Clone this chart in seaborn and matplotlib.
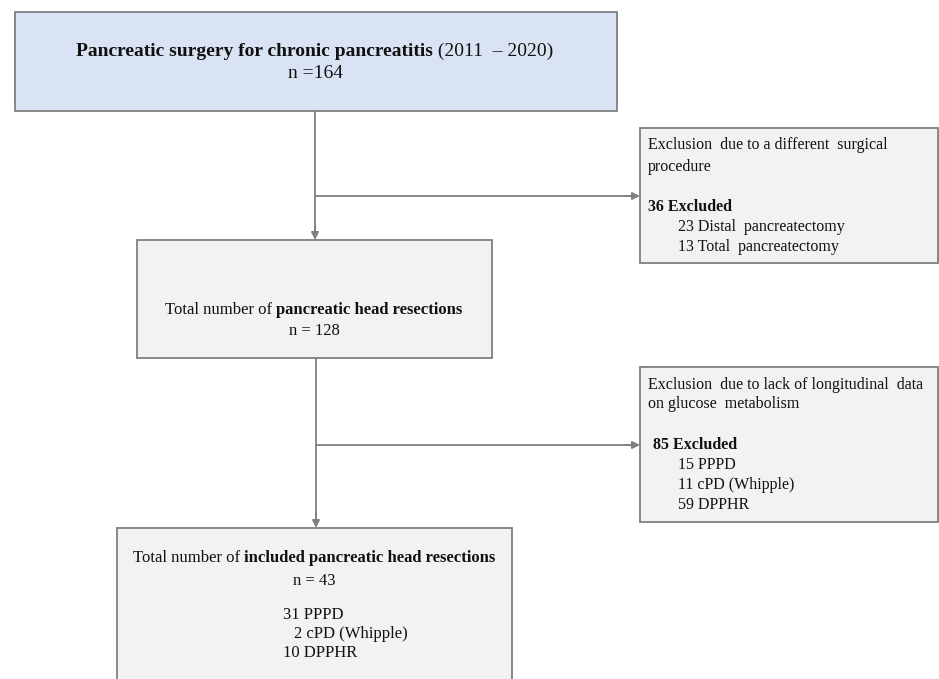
import matplotlib
matplotlib.use("Agg")
import matplotlib.pyplot as plt
import seaborn as sns
import pandas as pd
from matplotlib.patches import Rectangle

# ---- data ----
period = "(2011  \u2013 2020)"
n_total = 164
excl1_total = 36
excl1_labels = ["Distal  pancreatectomy", "Total  pancreatectomy"]
excl1_counts = [23, 13]
n_head = 128
excl2_total = 85
excl2_labels = ["PPPD", "cPD (Whipple)", "DPPHR"]
excl2_counts = [15, 11, 59]
n_included = 43
incl_labels = ["PPPD", "cPD (Whipple)", "DPPHR"]
incl_counts = [31, 2, 10]

sns.set_theme(style="white")
plt.rcParams["font.family"] = ["Liberation Serif", "DejaVu Serif"]

W, H = 939, 679
fig = plt.figure(figsize=(W / 100, H / 100), dpi=100)
ax = fig.add_axes([0, 0, 1, 1])

EDGE = "#7f7f7f"
LINE = "#808080"
FS = 12
FSX = 11.5

# boxes: x0, y0, x1, y1
boxes = {
    "top": (15, 12, 617, 111, "#dae3f3"),
    "ex1": (640, 128, 938, 263, "#f2f2f2"),
    "head": (137, 240, 492, 358, "#f2f2f2"),
    "ex2": (640, 367, 938, 522, "#f2f2f2"),
    "inc": (117, 528, 512, 700, "#f2f2f2"),
}
for k, (x0, y0, x1, y1, fc) in boxes.items():
    ax.add_patch(Rectangle((x0, y0), x1 - x0, y1 - y0, facecolor=fc,
                           edgecolor=EDGE, linewidth=1.3, zorder=1))

# connector lines via seaborn
def seg(xs, ys):
    df = pd.DataFrame({"x": xs, "y": ys})
    sns.lineplot(data=df, x="x", y="y", ax=ax, color=LINE, linewidth=1.3,
                 sort=False, estimator=None, zorder=2)

seg([315, 315], [111, 232])
seg([315, 632], [196, 196])
seg([316, 316], [358, 520])
seg([316, 632], [445, 445])
ax.set_xlim(0, W)
ax.set_ylim(H, 0)
ax.set_xlabel("")
ax.set_ylabel("")
ax.axis("off")

def arrow(x0, y0, x1, y1):
    ax.annotate("", xy=(x1, y1), xytext=(x0, y0),
                arrowprops=dict(arrowstyle="-|>", color=LINE, lw=1.3,
                                mutation_scale=11, shrinkA=0, shrinkB=0),
                zorder=3)

arrow(315, 225, 315, 240)
arrow(625, 196, 640, 196)
arrow(316, 513, 316, 528)
arrow(625, 445, 640, 445)

fig.canvas.draw()
renderer = fig.canvas.get_renderer()

def mixed(x, y, segs, ha="center", fs=FS):
    texts = []
    widths = []
    for s, w in segs:
        t = ax.text(0, y, s, fontsize=fs, fontweight=w, va="center",
                    ha="left", color="#111111", zorder=4)
        bb = t.get_window_extent(renderer)
        widths.append(bb.width)
        texts.append(t)
    total = sum(widths)
    start = x - total / 2 if ha == "center" else x
    for t, wd in zip(texts, widths):
        t.set_x(start)
        start += wd

def txt(x, y, s, weight="normal", ha="left", fs=FS):
    ax.text(x, y, s, fontsize=fs, fontweight=weight, ha=ha, va="center",
            color="#111111", zorder=4)

# top box
mixed(315, 51, [("Pancreatic surgery for chronic pancreatitis", "bold"),
                (" " + period, "normal")], fs=14)
txt(315, 74, f"n ={n_total}", ha="center", fs=14)

# exclusion 1
txt(648, 145, "Exclusion  due to a different  surgical", fs=FSX)
txt(648, 167, "procedure", fs=FSX)
txt(648, 207, f"{excl1_total} Excluded", weight="bold", fs=FSX)
for i, (c, l) in enumerate(zip(excl1_counts, excl1_labels)):
    txt(678, 227 + 20 * i, f"{c} {l}", fs=FSX)

# head box
mixed(314, 310, [("Total number of ", "normal"),
                 ("pancreatic head resections", "bold")], fs=FS)
txt(314, 331, f"n = {n_head}", ha="center", fs=FS)

# exclusion 2
txt(648, 385, "Exclusion  due to lack of longitudinal  data", fs=FSX)
txt(648, 404, "on glucose  metabolism", fs=FSX)
txt(653, 445, f"{excl2_total} Excluded", weight="bold", fs=FSX)
for i, (c, l) in enumerate(zip(excl2_counts, excl2_labels)):
    txt(678, 465 + 20 * i, f"{c} {l}", fs=FSX)

# included box
mixed(314.5, 558, [("Total number of ", "normal"),
                   ("included pancreatic head resections", "bold")], fs=FS)
txt(314.5, 581, f"n = {n_included}", ha="center", fs=FS)
inc_x = [283, 294, 283]
for i, (c, l) in enumerate(zip(incl_counts, incl_labels)):
    txt(inc_x[i], 615 + 19 * i, f"{c} {l}", fs=FS)

fig.savefig("out.png", dpi=100, facecolor="white")
